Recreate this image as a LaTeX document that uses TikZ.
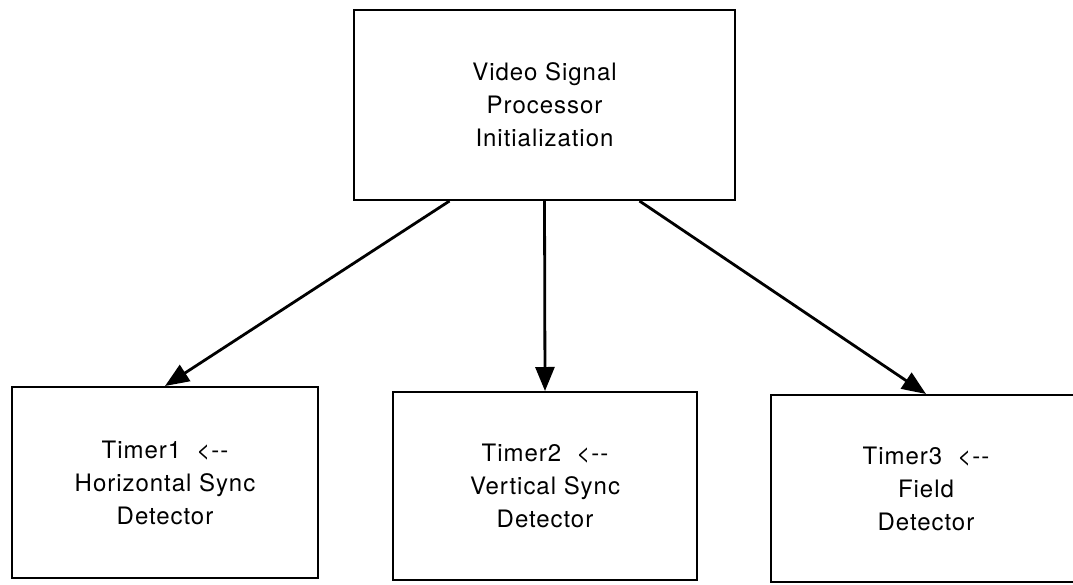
\documentclass[tikz,border=0pt]{standalone}
\usepackage{fontspec}
\setmainfont[LetterSpace=4]{TeX Gyre Heros}
\usetikzlibrary{arrows.meta}

\begin{document}
\begin{tikzpicture}[x=1pt,y=-1pt,
   box/.style={draw,line width=2pt,align=center,font=\fontsize{24}{33}\selectfont},
   flow/.style={line width=2.8pt,-{Triangle[length=24pt,width=19pt]}}]
\useasboundingbox (0,0) rectangle (1073,584);
\node[box,minimum width=381pt,minimum height=190pt] (vsp) at (544.5,105)
   {Video Signal\\Processor\\Initialization};
\node[box,minimum width=306pt,minimum height=191pt] (t1) at (165,482.5)
   {Timer1\ \ {<}{-}{-}\\Horizontal Sync\\Detector};
\node[box,minimum width=304pt,minimum height=188pt] (t2) at (545,486)
   {Timer2\ \ {<}{-}{-}\\Vertical Sync\\Detector};
\node[box,minimum width=310pt,minimum height=187pt] (t3) at (926,488.5)
   {Timer3\ \ {<}{-}{-}\\Field\\Detector};
\draw[flow] ([xshift=-95pt]vsp.south) -- (t1.north);
\draw[flow] (vsp.south) -- (t2.north);
\draw[flow] ([xshift=95pt]vsp.south) -- (t3.north);
\end{tikzpicture}
\end{document}
